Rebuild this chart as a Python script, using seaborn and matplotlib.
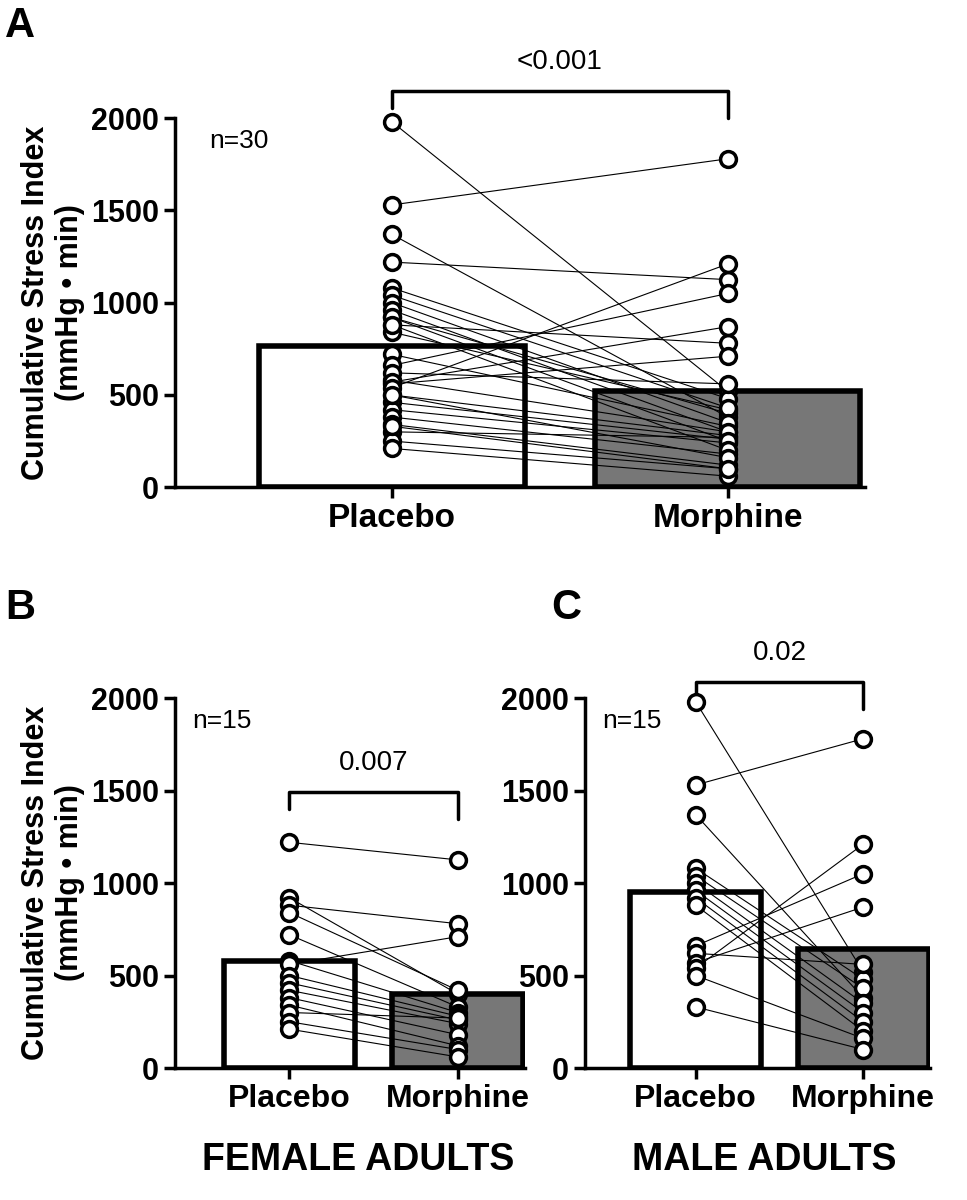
import matplotlib
matplotlib.use("Agg")
import matplotlib.pyplot as plt
import seaborn as sns
import numpy as np
import pandas as pd

sns.set_style("ticks")
plt.rcParams['font.family'] = ['Liberation Sans', 'DejaVu Sans']
plt.rcParams.update({"text.color": "black", "axes.labelcolor": "black",
                     "xtick.color": "black", "ytick.color": "black", "axes.edgecolor": "black"})

categories = ["Placebo", "Morphine"]
female_placebo = [1220, 920, 880, 840, 720, 580, 560, 500, 460, 420, 380, 340, 300, 250, 210]
female_morphine = [1125, 400, 780, 420, 330, 300, 710, 280, 260, 240, 180, 120, 270, 100, 60]
male_placebo = [1980, 1530, 1370, 1080, 1040, 1000, 960, 920, 880, 660, 620, 570, 540, 500, 330]
male_morphine = [520, 1780, 380, 480, 430, 350, 300, 250, 200, 1050, 560, 870, 1210, 160, 100]
bar_female = [580, 400]
bar_male = [950, 645]
bar_all = [765, 522]
p_all, p_female, p_male = "<0.001", "0.007", "0.02"

fig = plt.figure(figsize=(9.67, 12), dpi=100)

def panel(rect, xlim, pl, mo, bars, n, ptxt, bracket_y, bar_w, xfs):
    ax = fig.add_axes(rect)
    df = pd.DataFrame({"cond": categories, "val": bars})
    sns.barplot(data=df, x="cond", y="val", hue="cond", palette=["white", "#777777"],
                edgecolor="black", linewidth=4, width=bar_w, errorbar=None, legend=False, ax=ax)
    for a, b in zip(pl, mo):
        ax.plot([0, 1], [a, b], color="black", lw=0.8, zorder=3)
    pts = pd.DataFrame({"x": [0]*len(pl) + [1]*len(mo), "y": list(pl) + list(mo)})
    sns.scatterplot(data=pts, x="x", y="y", s=130, facecolor="white", edgecolor="black",
                    linewidth=2.5, zorder=4, ax=ax, clip_on=False)
    ax.set_xlim(*xlim)
    ax.set_ylim(0, 2000)
    ax.set_yticks([0, 500, 1000, 1500, 2000])
    sns.despine(ax=ax)
    for s in ["left", "bottom"]:
        ax.spines[s].set_linewidth(2.5)
    ax.tick_params(width=2.5, length=8)
    ax.set_xlabel("")
    ax.set_ylabel("")
    for lab in ax.get_yticklabels():
        lab.set_fontweight("bold"); lab.set_fontsize(22)
    for lab in ax.get_xticklabels():
        lab.set_fontweight("bold"); lab.set_fontsize(xfs)
    ax.text(0.05, 0.97, f"n={n}", transform=ax.transAxes, fontsize=19, va="top", ha="left")
    by, bh = bracket_y
    ax.plot([0, 0, 1, 1], [by - bh, by, by, by - bh*1.6], color="black", lw=2.5, clip_on=False)
    ax.text(0.5, by + 90, ptxt, ha="center", va="bottom", fontsize=20)
    return ax

axA = panel([0.181, 0.594, 0.714, 0.3075], (-0.646, 1.41), female_placebo + male_placebo,
            female_morphine + male_morphine, bar_all, 30, p_all, (2145, 90), 0.79, 24)
axA.set_ylabel("Cumulative Stress Index\n(mmHg • min)", fontsize=22, fontweight="bold")
axB = panel([0.181, 0.11, 0.362, 0.3083], (-0.68, 1.4), female_placebo, female_morphine,
            bar_female, 15, p_female, (1490, 90), 0.78, 23)
axB.set_ylabel("Cumulative Stress Index\n(mmHg • min)", fontsize=22, fontweight="bold")
axC = panel([0.605, 0.11, 0.357, 0.3083], (-0.66, 1.4), male_placebo, male_morphine,
            bar_male, 15, p_male, (2085, 90), 0.78, 23)
fig.text(0.005, 0.995, "A", fontsize=30, fontweight="bold", ha="left", va="top")
fig.text(0.005, 0.51, "B", fontsize=30, fontweight="bold", ha="left", va="top")
fig.text(0.57, 0.51, "C", fontsize=30, fontweight="bold", ha="left", va="top")
fig.text(0.37, 0.025, "FEMALE ADULTS", fontsize=27, fontweight="bold", ha="center")
fig.text(0.79, 0.025, "MALE ADULTS", fontsize=27, fontweight="bold", ha="center")
fig.savefig("out.png", dpi=100)
